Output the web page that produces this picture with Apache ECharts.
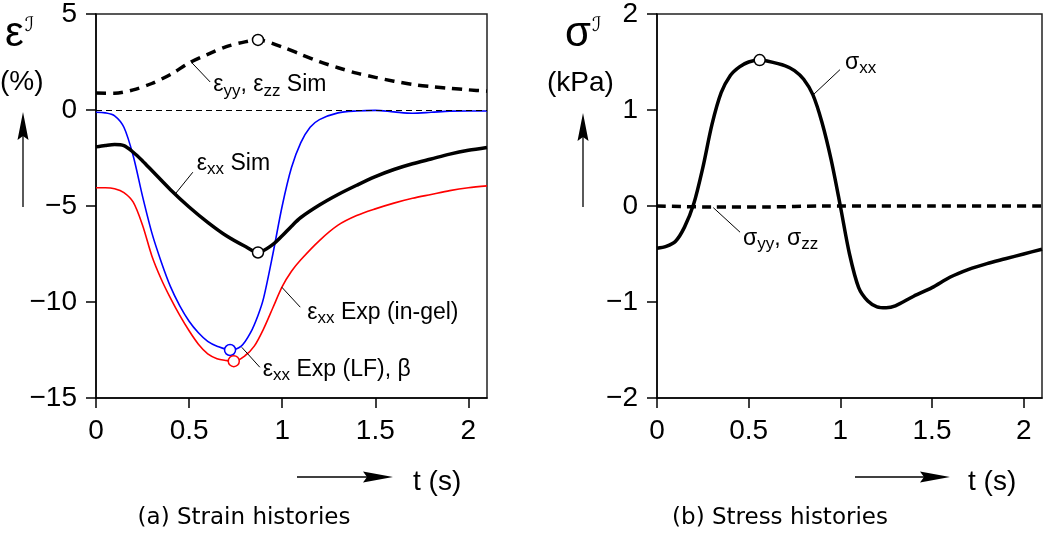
<!DOCTYPE html>
<html><head><meta charset="utf-8">
<script src="https://cdn.jsdelivr.net/npm/echarts@6/dist/echarts.min.js"></script>
<style>html,body{margin:0;padding:0;background:#fff}#c{width:1050px;height:535px}</style>
</head><body><div id="c"></div>
<script>
// ---------------- data ----------------
const tickT = [0, 0.5, 1, 1.5, 2];
const strainTicks = [-15, -10, -5, 0, 5];
const stressTicks = [-2, -1, 0, 1, 2];

// eps_yy, eps_zz (Sim), %
const tYY   = [0, 0.1, 0.2, 0.3, 0.4, 0.5, 0.6, 0.7, 0.8, 0.87, 1.0, 1.1, 1.2, 1.3, 1.4, 1.5, 1.6, 1.7, 1.8, 1.9, 2.0, 2.1];
const epsYY = [0.88, 0.87, 1.05, 1.38, 1.85, 2.45, 2.9, 3.3, 3.55, 3.65, 3.28, 2.9, 2.52, 2.2, 1.92, 1.7, 1.5, 1.33, 1.22, 1.13, 1.05, 0.98];

// eps_xx (Sim), %
const tXX   = [0, 0.05, 0.1, 0.15, 0.2, 0.25, 0.3, 0.4, 0.5, 0.6, 0.7, 0.8, 0.87, 0.95, 1.0, 1.05, 1.1, 1.2, 1.3, 1.4, 1.5, 1.6, 1.7, 1.8, 1.9, 2.0, 2.1];
const epsXX = [-1.92, -1.85, -1.8, -1.86, -2.2, -2.65, -3.15, -4.15, -5.05, -5.85, -6.55, -7.1, -7.42, -7.0, -6.55, -6.05, -5.6, -4.95, -4.4, -3.92, -3.47, -3.1, -2.8, -2.55, -2.3, -2.1, -1.95];

// eps_xx Exp (LF), %  (blue)
const tLF   = [0, 0.05, 0.1, 0.15, 0.2, 0.25, 0.3, 0.35, 0.4, 0.45, 0.5, 0.55, 0.6, 0.65, 0.72, 0.78, 0.83, 0.87, 0.9, 0.95, 1.0, 1.05, 1.1, 1.15, 1.2, 1.3, 1.4, 1.5, 1.6, 1.7, 1.8, 1.9, 2.0, 2.1];
const epsLF = [-0.12, -0.15, -0.3, -0.9, -2.4, -4.5, -6.4, -7.9, -9.2, -10.2, -11.0, -11.6, -12.05, -12.3, -12.5, -12.3, -11.6, -10.7, -9.8, -7.5, -5.0, -3.0, -1.7, -0.9, -0.5, -0.15, -0.05, -0.02, -0.1, -0.17, -0.12, -0.06, -0.05, -0.05];

// eps_xx Exp (in-gel), %  (red)
const tGel   = [0, 0.05, 0.1, 0.15, 0.2, 0.25, 0.3, 0.35, 0.4, 0.45, 0.5, 0.55, 0.6, 0.65, 0.7, 0.74, 0.8, 0.85, 0.9, 0.95, 1.0, 1.05, 1.1, 1.2, 1.3, 1.4, 1.5, 1.6, 1.7, 1.8, 1.9, 2.0, 2.1];
const epsGel = [-4.05, -4.05, -4.1, -4.3, -4.8, -6.0, -7.6, -8.8, -9.8, -10.7, -11.5, -12.2, -12.7, -12.95, -13.05, -13.1, -12.8, -12.3, -11.4, -10.3, -9.2, -8.4, -7.8, -6.8, -6.0, -5.5, -5.15, -4.85, -4.6, -4.4, -4.2, -4.05, -3.95];

// sigma_xx, kPa
const tSX   = [0, 0.05, 0.1, 0.15, 0.2, 0.25, 0.3, 0.35, 0.4, 0.45, 0.5, 0.56, 0.6, 0.7, 0.75, 0.8, 0.85, 0.9, 0.95, 1.0, 1.05, 1.1, 1.15, 1.2, 1.25, 1.3, 1.4, 1.5, 1.6, 1.7, 1.8, 1.9, 2.0, 2.1];
const sigXX = [-0.44, -0.42, -0.37, -0.22, 0.02, 0.4, 0.85, 1.18, 1.36, 1.45, 1.5, 1.52, 1.51, 1.46, 1.41, 1.32, 1.16, 0.87, 0.48, 0.0, -0.5, -0.85, -0.99, -1.05, -1.06, -1.04, -0.94, -0.85, -0.74, -0.66, -0.6, -0.55, -0.5, -0.45];

// sigma_yy, sigma_zz, kPa
const tSY   = [0, 0.3, 0.6, 0.9, 1.2, 1.5, 1.8, 2.1];
const sigYY = [0, -0.01, -0.01, 0, 0, 0, 0, 0];

// marked points [t, value]
const markYY = [[0.87, 3.65]];
const markXX = [[0.87, -7.42]];
const markLF = [[0.72, -12.5]];
const markGel = [[0.74, -13.08]];
const markSX = [[0.56, 1.52]];

// ---------------- chart ----------------
const FONT = '"Liberation Sans", Arial, Helvetica, sans-serif';
const chart = echarts.init(document.getElementById('c'), null, {renderer: 'canvas'});
const pairs = (ts, vs) => ts.map((t, i) => [t, vs[i]]);
const fmt = v => (v < 0 ? '\u2212' + Math.abs(v) : String(v));

function xAxisCfg(gi) {
  return {
    type: 'value', gridIndex: gi, min: 0, max: 2.1, interval: 0.5,
    axisLine: {show: true, onZero: false, lineStyle: {color: '#000', width: 1.5}},
    axisTick: {show: true, inside: false, length: 10, customValues: tickT, lineStyle: {color: '#000', width: 1.5}},
    axisLabel: {customValues: tickT, formatter: fmt, fontSize: 28, fontFamily: FONT, color: '#000', margin: 19},
    splitLine: {show: false}
  };
}
function yAxisCfg(gi, ticks, step) {
  return {
    type: 'value', gridIndex: gi, min: ticks[0], max: ticks[ticks.length - 1], interval: step,
    axisLine: {show: true, onZero: false, lineStyle: {color: '#000', width: 1.5}},
    axisTick: {show: true, inside: false, length: 10, lineStyle: {color: '#000', width: 1.5}},
    axisLabel: {formatter: fmt, fontSize: 28, fontFamily: FONT, color: '#000', margin: 19},
    splitLine: {show: false}
  };
}
function lineSeries(gi, data, color, width, type, z) {
  return {
    type: 'line', xAxisIndex: gi, yAxisIndex: gi, data: data, showSymbol: false,
    smooth: 0.3, z: z, silent: true,
    lineStyle: {color: color, width: width, type: type, cap: 'butt', join: 'round'}
  };
}
function markSeries(gi, data, color) {
  return {
    type: 'scatter', xAxisIndex: gi, yAxisIndex: gi, data: data, symbol: 'circle', symbolSize: 11, z: 20, silent: true,
    itemStyle: {color: '#ffffff', opacity: 1, borderColor: color, borderWidth: 1.5}
  };
}

const zero = lineSeries(0, pairs(tGel, epsGel), '#ff0000', 1.6, 'solid', 3);
zero.markLine = {silent: true, symbol: 'none', label: {show: false},
  lineStyle: {color: '#000', width: 1, type: [6, 4]}, data: [{yAxis: 0}]};

const option = {
  animation: false,
  backgroundColor: '#fff',
  grid: [
    {left: 96, top: 14, width: 391, height: 384, show: true, borderColor: '#222', borderWidth: 1.5, backgroundColor: 'transparent'},
    {left: 657, top: 14, width: 385, height: 384, show: true, borderColor: '#222', borderWidth: 1.5, backgroundColor: 'transparent'}
  ],
  xAxis: [xAxisCfg(0), xAxisCfg(1)],
  yAxis: [yAxisCfg(0, strainTicks, 5), yAxisCfg(1, stressTicks, 1)],
  series: [
    zero,
    lineSeries(0, pairs(tLF, epsLF), '#0000ff', 1.6, 'solid', 4),
    lineSeries(0, pairs(tXX, epsXX), '#000', 3.5, 'solid', 5),
    lineSeries(0, pairs(tYY, epsYY), '#000', 3.5, [10, 7], 5),
    markSeries(0, markYY, '#000'),
    markSeries(0, markXX, '#000'),
    markSeries(0, markLF, '#0000ff'),
    markSeries(0, markGel, '#ff0000'),
    lineSeries(1, pairs(tSY, sigYY), '#000', 3.5, [9, 6], 4),
    lineSeries(1, pairs(tSX, sigXX), '#000', 3.5, 'solid', 5),
    markSeries(1, markSX, '#000')
  ]
};
chart.setOption(option);

// ---------------- annotations ----------------
const labRich = {
  m: {fontSize: 23, fontFamily: FONT, color: '#000', lineHeight: 28},
  s: {fontSize: 17, fontFamily: FONT, color: '#000', lineHeight: 17, padding: [12, 0, 0, 0]}
};
const notes = [
  {g: 0, from: [0.516, 2.45], to: [0.613, 1.46], dx: 3, dy: 3, text: '{m|\u03b5}{s|yy}{m|, \u03b5}{s|zz}{m| Sim}'},
  {g: 0, from: [0.425, -4.38], to: [0.52, -3.24], dx: 4, dy: -9, text: '{m|\u03b5}{s|xx}{m| Sim}'},
  {g: 0, from: [0.998, -9.23], to: [1.097, -10.27], dx: 7, dy: 5, text: '{m|\u03b5}{s|xx}{m| Exp (in-gel)}'},
  {g: 0, from: [0.783, -12.36], to: [0.88, -13.4], dx: 3, dy: 2, text: '{m|\u03b5}{s|xx}{m| Exp (LF), \u03b2}'},
  {g: 1, from: [0.853, 1.16], to: [0.998, 1.42], dx: 5, dy: -7, text: '{m|\u03c3}{s|xx}'},
  {g: 1, from: [0.307, -0.017], to: [0.453, -0.273], dx: 3, dy: 6, text: '{m|\u03c3}{s|yy}{m|, \u03c3}{s|zz}'}
];
const gfx = [];
notes.forEach(n => {
  const a = chart.convertToPixel({gridIndex: n.g}, n.from);
  const b = chart.convertToPixel({gridIndex: n.g}, n.to);
  gfx.push({type: 'line', silent: true, z: 30, shape: {x1: a[0], y1: a[1], x2: b[0], y2: b[1]}, style: {stroke: '#000', lineWidth: 1}});
  gfx.push({type: 'text', silent: true, z: 30, x: b[0] + n.dx, y: b[1] + n.dy,
    style: {text: n.text, rich: labRich, align: 'left', verticalAlign: 'middle'}});
});

const titleRich = {
  b: {fontSize: 42, fontFamily: FONT, color: '#000'},
  p: {fontSize: 20, fontFamily: '"DejaVu Sans", "DejaVu Serif", serif', color: '#000', padding: [0, 0, 16, 1]}
};
function vArrow(x, yTip, yEnd) {
  return [
    {type: 'line', silent: true, shape: {x1: x, y1: yTip + 20, x2: x, y2: yEnd}, style: {stroke: '#000', lineWidth: 1.3}},
    {type: 'polygon', silent: true, shape: {points: [[x, yTip], [x - 5.5, yTip + 28], [x, yTip + 24], [x + 5.5, yTip + 28]]}, style: {fill: '#000'}}
  ];
}
function hArrow(xStart, xTip, y) {
  return [
    {type: 'line', silent: true, shape: {x1: xStart, y1: y, x2: xTip - 20, y2: y}, style: {stroke: '#000', lineWidth: 1.3}},
    {type: 'polygon', silent: true, shape: {points: [[xTip, y], [xTip - 30, y - 5.5], [xTip - 26, y], [xTip - 30, y + 5.5]]}, style: {fill: '#000'}}
  ];
}
const txt = (x, y, text, size, align, family) => ({type: 'text', silent: true, x: x, y: y,
  style: {text: text, fontSize: size, fontFamily: family || FONT, fill: '#000', align: align || 'left', verticalAlign: 'middle'}});

gfx.push({type: 'text', silent: true, x: 5, y: 34, style: {text: '{b|\u03b5}{p|\u2110}', rich: titleRich, align: 'left', verticalAlign: 'middle'}});
gfx.push(txt(0, 82, '(%)', 28));
gfx.push(...vArrow(23, 112, 207));
gfx.push({type: 'text', silent: true, x: 565, y: 34, style: {text: '{b|\u03c3}{p|\u2110}', rich: titleRich, align: 'left', verticalAlign: 'middle'}});
gfx.push(txt(547, 83, '(kPa)', 28));
gfx.push(...vArrow(583, 113, 207));
gfx.push(...hArrow(297, 393, 477));
gfx.push(txt(413, 482, 't (s)', 28));
gfx.push(...hArrow(855, 950, 477));
gfx.push(txt(968, 482, 't (s)', 28));
const CAP = '"DejaVu Sans", "Noto Sans", sans-serif';
gfx.push(txt(244, 518, '(a) Strain histories', 23, 'center', CAP));
gfx.push(txt(780, 518, '(b) Stress histories', 23, 'center', CAP));

chart.setOption({graphic: gfx});
</script>
</body></html>
